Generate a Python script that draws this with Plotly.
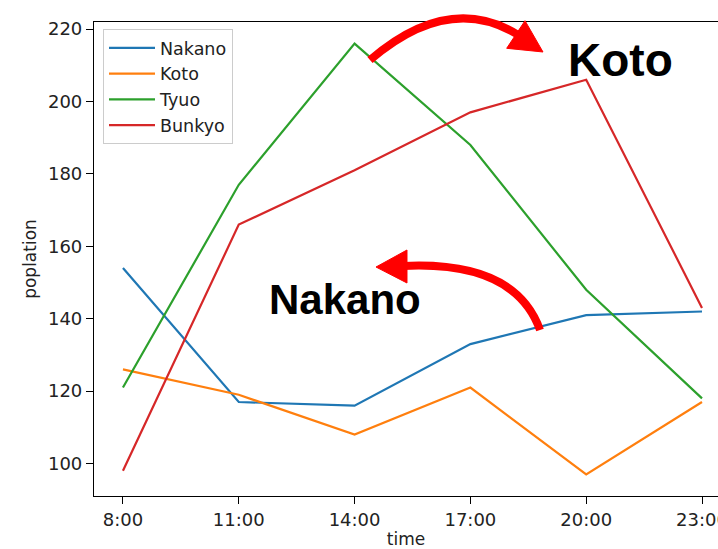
import plotly.graph_objects as go

times = ["8:00", "11:00", "14:00", "17:00", "20:00", "23:00"]
nakano = [154, 117, 116, 133, 141, 142]
koto = [126, 119, 108, 121, 97, 117]
tyuo = [121, 177, 216, 188, 148, 118]
bunkyo = [98, 166, 181, 197, 206, 143]

series = [("Nakano", nakano, "#1f77b4"), ("Koto", koto, "#ff7f0e"),
          ("Tyuo", tyuo, "#2ca02c"), ("Bunkyo", bunkyo, "#d62728")]

W, H = 718, 549
ML, MR, MT, MB = 94, 0, 22, 53
PW, PH = W - ML - MR, H - MT - MB


def P(px, py):
    return f"{(px - ML) / PW:.5f},{(H - MB - py) / PH:.5f}"


fig = go.Figure()
for i, (name, vals, col) in enumerate(series):
    fig.add_trace(go.Scatter(x=times, y=vals, mode="lines", name=name,
                             legendgroup=f"g{i}",
                             line=dict(color=col, width=2.2)))

red = "#ff0000"
shapes = [
    # Koto arrow body + head
    dict(type="path", xref="paper", yref="paper",
         path=f"M{P(370, 60)} C{P(420, 17)} {P(470, 4)} {P(520, 36)}",
         line=dict(color=red, width=8)),
    dict(type="path", xref="paper", yref="paper",
         path=f"M{P(543, 52)} L{P(506.7, 48.3)} L{P(525, 20.7)} Z",
         fillcolor=red, line=dict(color=red, width=1)),
    # Nakano arrow body + head
    dict(type="path", xref="paper", yref="paper",
         path=f"M{P(540, 330)} C{P(525, 288)} {P(485, 262)} {P(403, 266)}",
         line=dict(color=red, width=8)),
    dict(type="path", xref="paper", yref="paper",
         path=f"M{P(376, 267)} L{P(407, 250)} L{P(407, 283)} Z",
         fillcolor=red, line=dict(color=red, width=1)),
]

annotations = [
    dict(text="<b>Koto</b>", xref="paper", yref="paper",
         x=(620 - ML) / PW, y=(H - MB - 60) / PH, xanchor="center", yanchor="middle",
         showarrow=False, font=dict(family="Liberation Sans, Arial", size=46, color="black")),
    dict(text="<b>Nakano</b>", xref="paper", yref="paper",
         x=(345 - ML) / PW, y=(H - MB - 299) / PH, xanchor="center", yanchor="middle",
         showarrow=False, font=dict(family="Liberation Sans, Arial", size=42, color="black")),
]

fig.update_layout(
    width=W, height=H,
    margin=dict(l=ML, r=MR, t=MT, b=MB, autoexpand=False),
    paper_bgcolor="white", plot_bgcolor="white",
    font=dict(family="DejaVu Sans", size=18, color="#222"),
    shapes=shapes, annotations=annotations,
    legend=dict(x=(103 - ML) / PW, y=(H - MB - 29) / PH, xanchor="left", yanchor="top",
                bgcolor="rgba(255,255,255,0.8)", bordercolor="#cccccc", borderwidth=1,
                font=dict(size=17.5), tracegroupgap=0, itemwidth=46),
    showlegend=True,
)
fig.update_xaxes(range=[-0.25, 5 + (W - 702) / 115.8], showline=True, linecolor="black",
                 linewidth=1.2, mirror=True, ticks="outside", ticklen=7, tickcolor="black",
                 showgrid=False, zeroline=False,
                 title=dict(text="time", standoff=8, font=dict(size=17)))
fig.update_yaxes(range=[91.05, 221.95], showline=True, linecolor="black", linewidth=1.2,
                 mirror=False, ticks="outside", ticklen=7, tickcolor="black",
                 tickvals=[100, 120, 140, 160, 180, 200, 220],
                 showgrid=False, zeroline=False,
                 title=dict(text="poplation", standoff=6, font=dict(size=17)))

fig.write_html("out.html", config={"displayModeBar": False},
               post_script="document.body.style.margin='0';document.body.style.overflow='hidden';")
